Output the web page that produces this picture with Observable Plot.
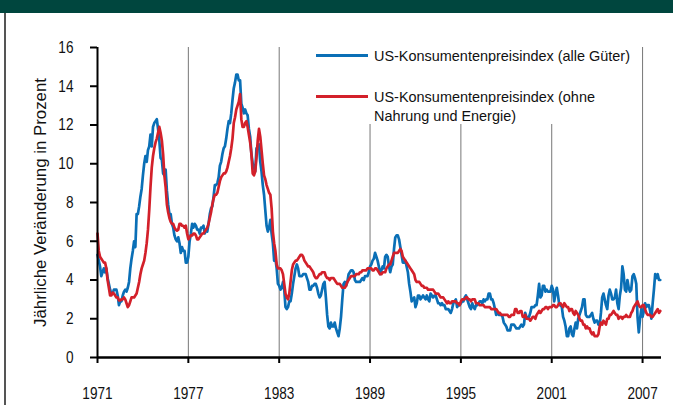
<!DOCTYPE html>
<html>
<head>
<meta charset="utf-8">
<script src="https://cdn.jsdelivr.net/npm/d3@7"></script>
<script src="https://cdn.jsdelivr.net/npm/@observablehq/plot@0.6"></script>
<style>
  html, body { margin: 0; padding: 0; background: #fff; }
  body { width: 673px; height: 405px; position: relative; overflow: hidden;
         font-family: "Liberation Sans", Arial, sans-serif; }
  #band { position: absolute; left: 0; top: 0; width: 673px; height: 13px; background: #00463e; }
  #border { position: absolute; left: 4px; top: 13px; width: 2px; height: 392px; background: #555; }
  #chart { position: absolute; left: 0; top: 13px; }
  #legend { position: absolute; left: 300px; top: 40px; overflow: visible; }
</style>
</head>
<body>
<div id="band"></div>
<div id="border"></div>
<div id="chart"></div>
<svg id="legend" width="373" height="90" xmlns="http://www.w3.org/2000/svg">
  <rect x="0" y="0" width="334" height="84" fill="#fff"></rect>
  <rect x="16" y="14" width="52" height="3" id="sw0"></rect>
  <text x="74" y="21" font-size="15" fill="#111" textLength="256" lengthAdjust="spacingAndGlyphs" id="lt0"></text>
  <rect x="16" y="55" width="52" height="3" id="sw1"></rect>
  <text x="74" y="62" font-size="15" fill="#111" textLength="221" lengthAdjust="spacingAndGlyphs" id="lt1a"></text>
  <text x="74" y="81" font-size="15" fill="#111" textLength="142" lengthAdjust="spacingAndGlyphs" id="lt1b"></text>
</svg>
<script>
const startYear = 1971;
const xTicks = [1971, 1977, 1983, 1989, 1995, 2001, 2007];
const yTicks = [0, 2, 4, 6, 8, 10, 12, 14, 16];
const yTitle = "Jährliche Veränderung in Prozent";
const seriesNames = ["US-Konsumentenpreisindex (alle Güter)", "US-Konsumentenpreisindex (ohne Nahrung und Energie)"];
const legendLines = [["US-Konsumentenpreisindex (alle Güter)"], ["US-Konsumentenpreisindex (ohne", "Nahrung und Energie)"]];

// Monthly year-on-year change, Jan 1971 – Mar 2008
const cpiAll = [
  5.3,5.0,4.7,4.2,4.4,4.6,4.4,4.6,4.1,3.8,3.5,3.3,
  3.3,3.5,3.5,3.5,3.2,2.7,2.9,2.9,3.2,3.4,3.5,3.4,
  3.6,3.9,4.6,5.1,5.5,6.0,5.7,7.4,7.4,7.8,8.3,8.7,
  9.4,10.0,10.4,10.1,10.7,10.9,11.5,10.9,11.9,12.1,12.2,12.3,
  11.8,11.2,10.3,10.2,9.5,9.4,9.7,8.6,7.9,7.4,7.4,6.9,
  6.7,6.3,6.1,6.0,6.2,5.9,5.4,5.7,5.5,5.5,4.9,4.9,
  5.2,6.0,6.4,6.9,6.7,6.9,6.8,6.6,6.6,6.4,6.7,6.7,
  6.8,6.4,6.6,6.5,6.9,7.4,7.7,7.8,8.3,8.9,8.9,9.0,
  9.3,9.9,10.1,10.5,10.8,10.9,11.3,11.8,12.2,12.1,12.6,13.3,
  13.9,14.2,14.6,14.6,14.3,14.3,13.1,12.9,12.6,12.8,12.6,12.5,
  11.8,11.4,10.5,10.0,9.8,9.6,10.8,10.8,11.0,10.1,9.6,8.9,
  8.4,7.6,6.8,6.5,6.7,7.1,6.4,5.9,5.0,5.1,4.6,3.8,
  3.7,3.5,3.6,3.9,3.5,2.6,2.5,2.6,2.9,2.9,3.3,3.8,
  4.2,4.6,4.8,4.6,4.2,4.2,4.2,4.3,4.3,4.3,4.1,3.9,
  3.5,3.5,3.7,3.7,3.8,3.8,3.6,3.3,3.1,3.2,3.5,3.8,
  3.9,3.1,2.2,1.6,1.5,1.8,1.6,1.6,1.8,1.5,1.3,1.1,
  1.5,2.1,3.0,3.8,3.9,3.7,3.9,4.3,4.4,4.5,4.5,4.4,
  4.0,3.9,3.9,3.9,3.9,4.0,4.1,4.0,4.2,4.2,4.2,4.4,
  4.7,4.8,5.0,5.1,5.4,5.2,5.0,4.7,4.3,4.5,4.7,4.6,
  5.2,5.3,5.2,4.7,4.4,4.7,4.8,5.6,6.2,6.3,6.3,6.1,
  5.7,5.3,4.9,4.9,5.0,4.7,4.4,3.8,3.4,2.9,3.0,3.1,
  2.6,2.8,3.2,3.2,3.0,3.1,3.2,3.1,3.0,3.2,3.0,2.9,
  3.3,3.2,3.1,3.2,3.2,3.0,2.8,2.8,2.7,2.8,2.7,2.7,
  2.5,2.5,2.5,2.4,2.3,2.5,2.8,2.9,3.0,2.6,2.7,2.7,
  2.8,2.9,2.9,3.1,3.2,3.0,2.8,2.6,2.5,2.8,2.6,2.5,
  2.7,2.7,2.8,2.9,2.9,2.8,3.0,2.9,3.0,3.0,3.3,3.3,
  3.0,3.0,2.8,2.5,2.2,2.3,2.2,2.2,2.2,2.1,1.8,1.7,
  1.6,1.4,1.4,1.4,1.7,1.7,1.7,1.6,1.5,1.5,1.5,1.6,
  1.7,1.6,1.7,2.3,2.1,2.0,2.1,2.3,2.6,2.6,2.6,2.7,
  2.7,3.2,3.8,3.1,3.2,3.7,3.7,3.4,3.5,3.4,3.4,3.4,
  3.7,3.5,2.9,3.3,3.6,3.2,2.7,2.7,2.6,2.1,1.9,1.6,
  1.1,1.1,1.5,1.6,1.2,1.1,1.5,1.8,1.5,2.0,2.2,2.4,
  2.6,3.0,3.0,2.2,2.1,2.1,2.1,2.2,2.3,2.0,1.8,1.9,
  1.9,1.7,1.7,2.3,3.1,3.3,3.0,2.7,2.5,3.2,3.5,3.3,
  3.0,3.0,3.1,3.5,2.8,2.5,3.2,3.6,4.7,4.3,3.5,3.4,
  4.0,3.6,3.4,3.5,4.2,4.3,4.1,3.8,2.1,1.3,2.0,2.5,
  2.1,2.4,2.8,2.6,2.7,2.7,2.4,2.0,2.8,3.5,4.3,4.1,
  4.3,4.0,4.0
];

const cpiCore = [
  6.4,5.5,5.2,5.1,5.0,4.9,4.9,4.6,4.0,3.6,3.2,3.2,
  3.35,3.3,3.2,3.1,3.1,2.95,2.95,3.0,3.0,3.1,3.0,2.8,
  2.6,2.7,2.9,3.1,3.1,3.1,3.2,3.3,3.6,3.9,4.3,4.6,
  4.8,5.0,5.4,5.9,6.6,7.6,8.8,9.8,10.4,10.8,11.1,11.3,
  11.6,11.9,11.6,11.2,10.5,9.4,8.8,7.9,7.5,7.2,7.0,6.9,
  6.9,6.7,6.6,6.55,6.6,6.9,6.9,6.8,6.8,6.7,6.8,6.4,
  6.1,6.2,6.3,6.3,6.4,6.4,6.3,6.1,6.1,6.2,6.3,6.4,
  6.4,6.5,6.6,6.7,6.9,7.2,7.5,7.9,8.2,8.4,8.4,8.5,
  8.8,9.1,9.3,9.4,9.5,9.5,9.6,9.8,10.1,10.4,10.8,11.3,
  12.1,12.4,12.8,13.0,13.2,13.6,12.3,11.9,11.9,12.1,12.2,11.9,
  11.5,11.1,10.5,9.5,9.4,9.6,10.3,11.2,11.8,11.4,10.7,10.0,
  9.4,9.2,8.9,8.7,8.5,8.4,7.7,6.5,5.9,5.5,4.8,4.6,
  4.6,4.6,4.5,4.3,3.8,3.3,3.1,3.0,3.3,3.9,4.5,4.8,
  4.9,5.0,5.0,5.1,5.2,5.3,5.3,5.2,5.0,4.9,4.8,4.7,
  4.7,4.6,4.5,4.4,4.2,4.1,4.1,4.2,4.3,4.3,4.4,4.4,
  4.4,4.2,4.1,4.1,4.0,4.1,4.1,4.1,4.0,3.9,3.8,3.8,
  3.8,3.7,3.6,3.6,3.6,3.7,3.9,4.0,4.1,4.2,4.2,4.2,
  4.2,4.3,4.3,4.3,4.4,4.4,4.5,4.5,4.5,4.5,4.6,4.6,
  4.6,4.6,4.5,4.5,4.6,4.6,4.5,4.4,4.3,4.3,4.4,4.4,
  4.4,4.6,4.7,4.8,4.8,5.0,5.2,5.4,5.4,5.4,5.4,5.5,
  5.6,5.5,5.2,5.1,5.0,4.9,4.8,4.7,4.6,4.5,4.4,4.3,
  4.0,3.9,3.9,3.9,3.8,3.7,3.7,3.6,3.6,3.6,3.5,3.5,
  3.5,3.5,3.5,3.4,3.3,3.3,3.3,3.2,3.1,3.1,3.1,3.0,
  2.9,2.8,2.9,2.8,2.8,2.9,2.9,2.9,2.9,2.8,2.8,2.7,
  2.9,3.0,3.0,3.0,3.1,3.1,3.0,3.0,2.9,3.0,3.0,3.0,
  2.8,2.8,2.8,2.7,2.7,2.7,2.7,2.6,2.6,2.6,2.6,2.6,
  2.5,2.5,2.5,2.5,2.5,2.4,2.3,2.3,2.2,2.2,2.2,2.2,
  2.2,2.2,2.1,2.1,2.2,2.2,2.2,2.5,2.5,2.3,2.3,2.4,
  2.4,2.1,2.1,2.2,2.0,2.0,2.0,1.9,2.0,2.1,2.1,2.0,
  2.2,2.3,2.4,2.3,2.4,2.5,2.5,2.6,2.6,2.5,2.6,2.6,
  2.6,2.7,2.7,2.6,2.6,2.7,2.8,2.8,2.7,2.6,2.8,2.7,
  2.6,2.6,2.4,2.5,2.5,2.3,2.2,2.4,2.3,2.2,2.0,1.9,
  1.9,1.7,1.7,1.5,1.6,1.5,1.5,1.3,1.2,1.3,1.1,1.1,
  1.1,1.2,1.6,1.8,1.7,1.9,1.8,1.7,2.0,2.0,2.2,2.2,
  2.3,2.4,2.3,2.2,2.2,2.0,2.1,2.1,2.0,2.1,2.1,2.2,
  2.1,2.1,2.1,2.3,2.4,2.6,2.7,2.8,2.9,2.7,2.6,2.6,
  2.7,2.7,2.5,2.3,2.2,2.2,2.2,2.1,2.1,2.2,2.3,2.4,
  2.5,2.3,2.4
];

const colors = ["#0a6fb6", "#d3202a"];

const toRows = (arr, name) => arr.map((v, i) => ({t: startYear + i / 12, v, name}));
const rows = [...toRows(cpiAll, seriesNames[0]), ...toRows(cpiCore, seriesNames[1])];

const font = '"Liberation Sans", Arial, sans-serif';

const chart = Plot.plot({
  width: 673,
  height: 392,
  marginTop: 34,
  marginBottom: 48,
  marginLeft: 97,
  marginRight: 12,
  style: {fontFamily: font, background: "transparent", color: "#111"},
  x: {domain: [1971, 2008.25], type: "linear"},
  y: {domain: [0, 16]},
  color: {domain: seriesNames, range: colors},
  marks: [
    Plot.ruleX(xTicks.slice(1), {y1: 0, y2: 16, stroke: "#777", strokeWidth: 1}),
    Plot.line(rows, {x: "t", y: "v", z: "name", stroke: "name", strokeWidth: 2.7, strokeLinejoin: "round"}),
    Plot.ruleX([1971], {y1: 0, y2: 16, stroke: "#000", strokeWidth: 2}),
    Plot.ruleY([0], {stroke: "#000", strokeWidth: 2.5}),
    Plot.axisY({ticks: yTicks, tickSize: 7, tickPadding: 17, fontSize: 17, tickFormat: d => String(d), stroke: "#000", strokeWidth: 2, label: null}),
    Plot.axisX({ticks: xTicks, tickSize: 6, tickPadding: 23, fontSize: 17, tickFormat: d => String(d), stroke: "#000", strokeWidth: 2, label: null}),
    Plot.text([yTitle], {frameAnchor: "left", textAnchor: "middle", rotate: -90, dx: -64, lineAnchor: "top", fontSize: 17, fill: "#111"})
  ]
});
document.getElementById("chart").appendChild(chart);

// condensed look: compress glyphs horizontally
chart.querySelectorAll("text").forEach(t => {
  const w = t.getComputedTextLength();
  const target = t.textContent === yTitle ? 249 : w * 0.8;
  t.setAttribute("textLength", target);
  t.setAttribute("lengthAdjust", "spacingAndGlyphs");
});

// legend
document.getElementById("sw0").setAttribute("fill", colors[0]);
document.getElementById("sw1").setAttribute("fill", colors[1]);
document.getElementById("lt0").textContent = legendLines[0][0];
document.getElementById("lt1a").textContent = legendLines[1][0];
document.getElementById("lt1b").textContent = legendLines[1][1];
</script>
</body>
</html>
